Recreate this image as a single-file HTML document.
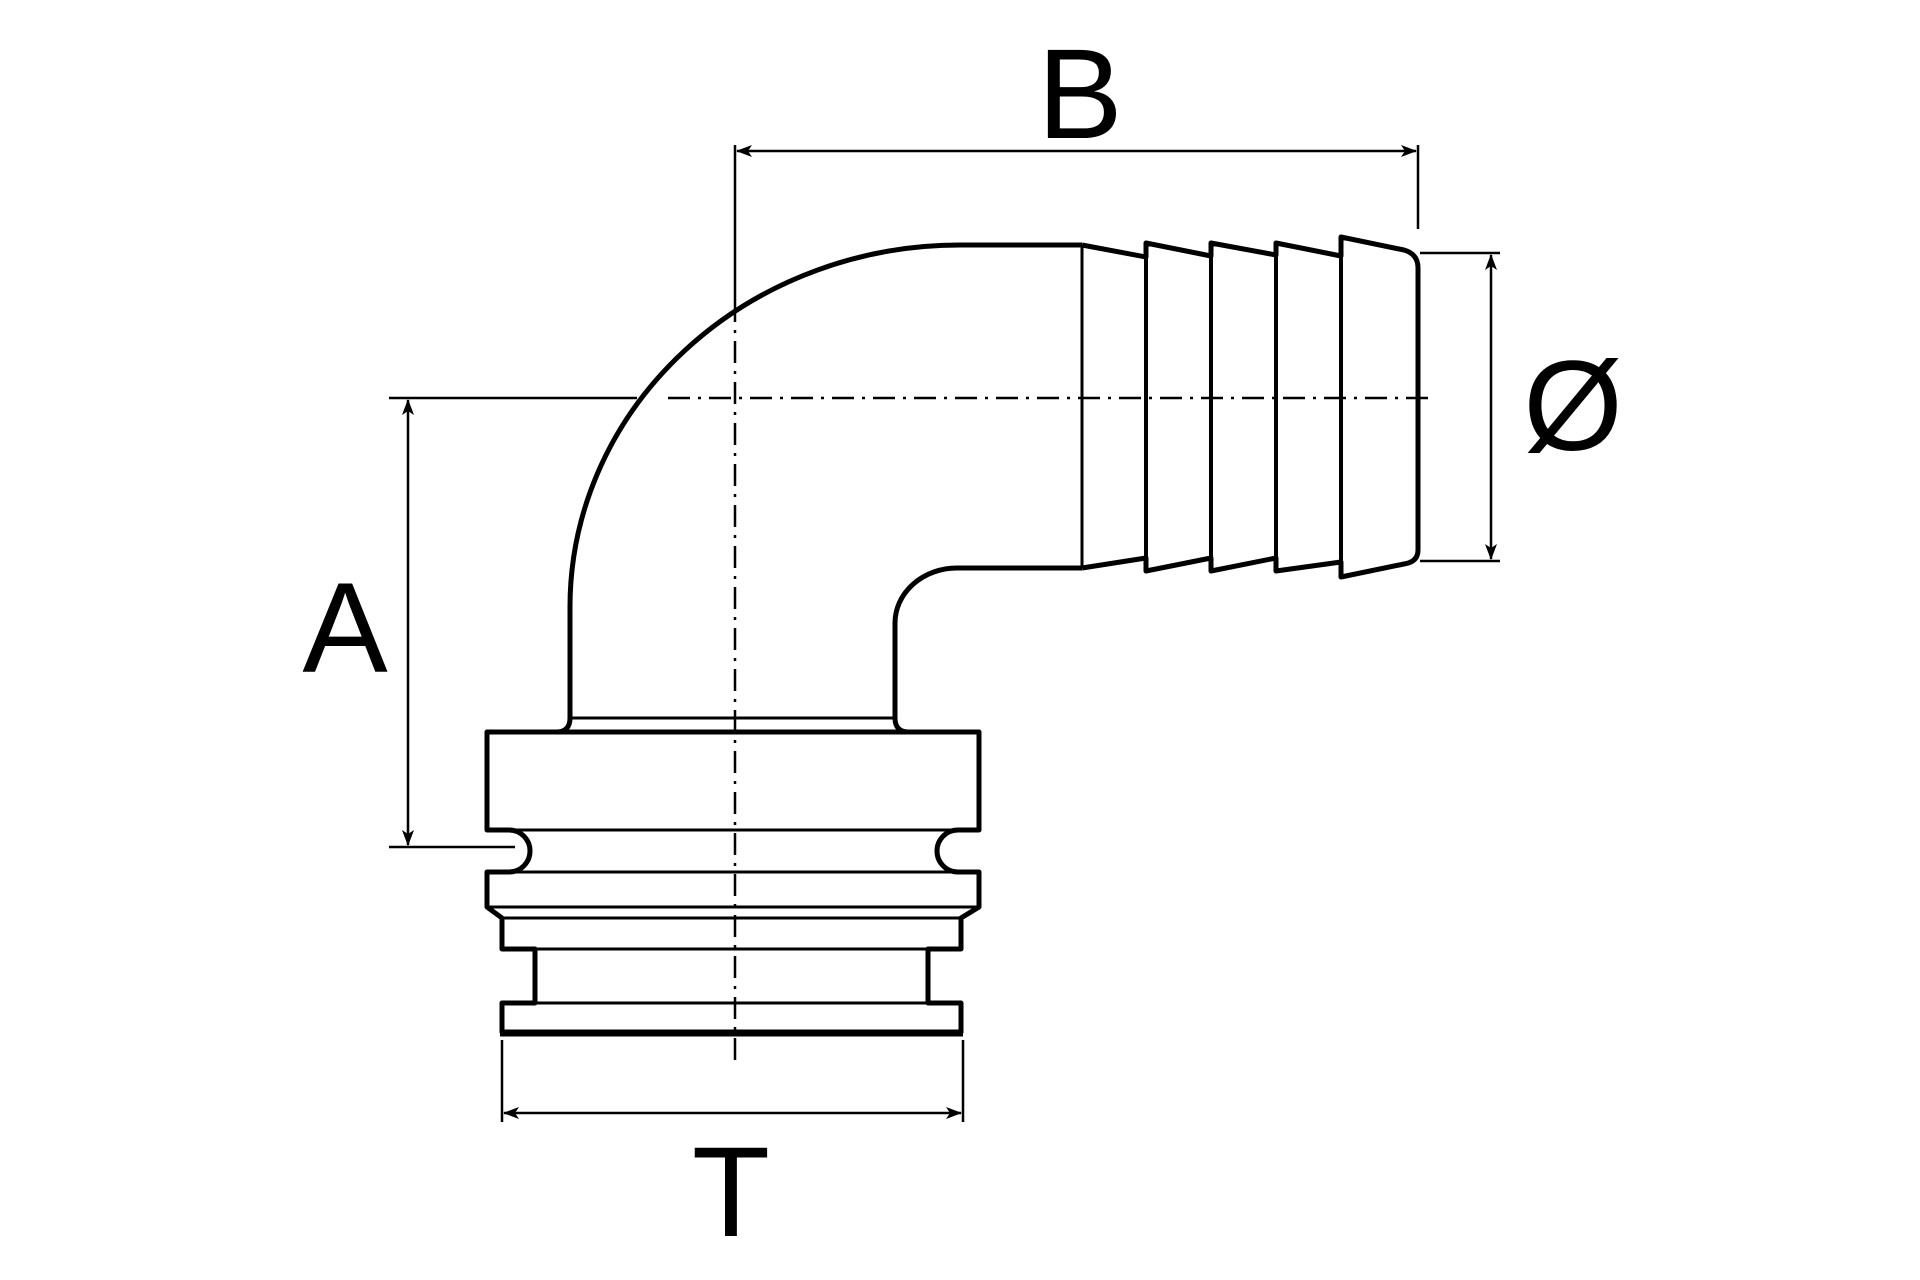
<!DOCTYPE html>
<html><head><meta charset="utf-8"><style>html,body{margin:0;padding:0;background:#fff}svg{display:block}</style></head>
<body>
<svg width="1920" height="1280" viewBox="0 0 1920 1280" xmlns="http://www.w3.org/2000/svg">
<defs>
<marker id="ar" viewBox="0 0 16 12" refX="15" refY="6" markerWidth="16" markerHeight="12" markerUnits="userSpaceOnUse" orient="auto-start-reverse">
<path d="M0,0 L16,6 L0,12 L4,6 Z" fill="#000"/>
</marker>
</defs>
<g fill="none" stroke="#000" stroke-linejoin="round">
<path d="M570,718 L570,607 A390 362 0 0 1 960,245 L1082,245" stroke-width="5"/>
<path d="M895,718 L895,623 A62 55 0 0 1 957,568 L1082,568" stroke-width="5"/>
<line x1="1082" y1="245" x2="1082" y2="568" stroke-width="3"/>
<path d="M1082,245 L1146,257 L1146,243 L1211,256 L1211,243 L1276,255 L1276,243 L1341,256 L1341,237 L1404,250 Q1418,254 1418,268 L1418,550 Q1418,562 1404,564 L1341,577 L1341,562 L1276,571 L1276,558 L1211,571 L1211,558 L1146,571 L1146,558 L1082,568" stroke-width="5"/>
<line x1="1146" y1="257" x2="1146" y2="558" stroke-width="4"/>
<line x1="1211" y1="256" x2="1211" y2="558" stroke-width="4"/>
<line x1="1276" y1="255" x2="1276" y2="558" stroke-width="4"/>
<line x1="1341" y1="256" x2="1341" y2="562" stroke-width="4"/>
<line x1="570" y1="718" x2="895" y2="718" stroke-width="3"/>
<path d="M570,718 Q570,732 556,732 L487,732 L487,830 L509,830 A21 21 0 0 1 509,872 L487,872 L487,907 L502,918 L502,949 L535,949 L535,1003 L502,1003 L502,1033" stroke-width="5"/>
<path d="M895,718 Q895,732 909,732 L979,732 L979,830 L958,830 A21 21 0 0 0 958,872 L979,872 L979,907 L961,918 L961,949 L928,949 L928,1003 L961,1003 L961,1033" stroke-width="5"/>
<line x1="487" y1="732" x2="979" y2="732" stroke-width="5"/>
<line x1="487" y1="830" x2="979" y2="830" stroke-width="3"/>
<line x1="487" y1="872" x2="979" y2="872" stroke-width="3"/>
<line x1="487" y1="907" x2="979" y2="907" stroke-width="3"/>
<line x1="502" y1="918" x2="961" y2="918" stroke-width="3"/>
<line x1="502" y1="949" x2="961" y2="949" stroke-width="3"/>
<line x1="535" y1="1003" x2="928" y2="1003" stroke-width="3"/>
<line x1="500" y1="1033" x2="963" y2="1033" stroke-width="7"/>
<line x1="735" y1="300" x2="735" y2="1060" stroke-width="2.5" stroke-dasharray="22,8,3,8"/>
<line x1="668" y1="398" x2="1435" y2="398" stroke-width="2.5" stroke-dasharray="22,8,3,8"/>
<line x1="735" y1="145" x2="735" y2="300" stroke-width="2.5"/>
<line x1="1418" y1="145" x2="1418" y2="229" stroke-width="2.5"/>
<line x1="737" y1="151" x2="1416" y2="151" stroke-width="2.5" marker-start="url(#ar)" marker-end="url(#ar)"/>
<line x1="389" y1="398" x2="637" y2="398" stroke-width="2.5"/>
<line x1="389" y1="847" x2="515" y2="847" stroke-width="2.5"/>
<line x1="408" y1="400" x2="408" y2="845" stroke-width="2.5" marker-start="url(#ar)" marker-end="url(#ar)"/>
<line x1="1420" y1="253" x2="1500" y2="253" stroke-width="2.5"/>
<line x1="1420" y1="561" x2="1500" y2="561" stroke-width="2.5"/>
<line x1="1491" y1="255" x2="1491" y2="559" stroke-width="2.5" marker-start="url(#ar)" marker-end="url(#ar)"/>
<line x1="502" y1="1040" x2="502" y2="1122" stroke-width="2.5"/>
<line x1="963" y1="1040" x2="963" y2="1122" stroke-width="2.5"/>
<line x1="504" y1="1113" x2="961" y2="1113" stroke-width="2.5" marker-start="url(#ar)" marker-end="url(#ar)"/>
</g>
<g font-family="Liberation Sans, sans-serif" font-size="128" fill="#000" text-anchor="middle">
<text x="1080" y="138">B</text>
<text x="345" y="672">A</text>
<text x="1573" y="450">Ø</text>
<text x="731" y="1236">T</text>
</g>
</svg>
</body></html>
